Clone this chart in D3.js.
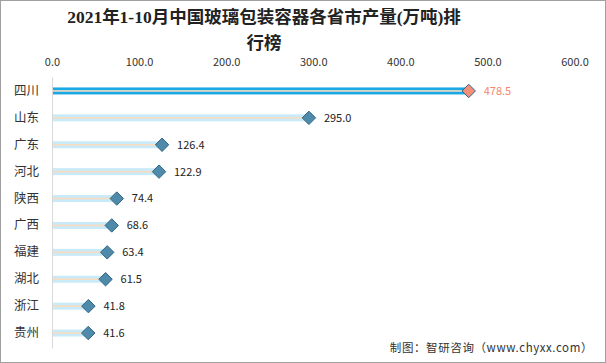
<!DOCTYPE html>
<html>
<head>
<meta charset="utf-8">
<script src="https://cdn.jsdelivr.net/npm/d3@7"></script>
<style>
	body { margin: 0; background: #fff; }
	svg { display: block; }
</style>
</head>
<body>
<svg width="606" height="363"></svg>
<script>
let provinces = ['四川', '山东', '广东', '河北', '陕西', '广西', '福建', '湖北', '浙江', '贵州']
let output = [478.5, 295.0, 126.4, 122.9, 74.4, 68.6, 63.4, 61.5, 41.8, 41.6]
let xTicks = [0, 100, 200, 300, 400, 500, 600]
let titleLines = ['2021年1-10月中国玻璃包装容器各省市产量(万吨)排', '行榜']
let source = '制图：智研咨询（www.chyxx.com）'

let cjk = '"Noto Sans CJK SC", "Noto Sans", sans-serif'

let svg = d3.select('svg')

svg.append('rect')
	.attr('x', 0.5).attr('y', 0.5)
	.attr('width', 605).attr('height', 362)
	.attr('fill', 'none')
	.attr('stroke', '#a0a0a0')

svg.append('text')
	.attr('text-anchor', 'middle')
	.attr('font-family', '"Liberation Serif", "Noto Sans CJK SC", serif')
	.attr('font-size', 17.5)
	.attr('font-weight', 'bold')
	.attr('fill', '#222')
	.selectAll('tspan')
	.data(titleLines)
	.join('tspan')
	.attr('x', 264)
	.attr('y', (d, i) => 23 + i * 26)
	.text(d => d)

let xScale = d3.scaleLinear()
	.domain([0, 600])
	.range([52, 574.5])

let yScale = d3.scaleBand()
	.domain(provinces)
	.range([77.5, 346.5])

// top axis, tick labels only
let topAxis = d3.axisTop(xScale)
	.tickValues(xTicks)
	.tickFormat(d3.format('.1f'))
	.tickSize(0)
	.tickPadding(0)

let axisG = svg.append('g')
	.attr('transform', 'translate(0, 66)')
	.call(topAxis)
axisG.select('.domain').remove()
axisG.selectAll('text')
	.attr('font-family', cjk)
	.attr('font-size', 11)
	.attr('fill', '#333')

// left axis line + category labels
svg.append('line')
	.attr('x1', 52.5).attr('x2', 52.5)
	.attr('y1', yScale.range()[0]).attr('y2', yScale.range()[1] + 2)
	.attr('stroke', '#d9d9d9')

let leftAxis = d3.axisLeft(yScale).tickSize(0).tickPadding(0)
let leftG = svg.append('g')
	.attr('transform', 'translate(39, 0)')
	.call(leftAxis)
leftG.select('.domain').remove()
leftG.selectAll('text')
	.attr('font-family', cjk)
	.attr('font-size', 12.5)
	.attr('fill', '#333')

let rows = svg.append('g')
	.selectAll('g')
	.data(provinces.map((p, i) => ({ name: p, value: output[i], top: i === 0 })))
	.join('g')
	.attr('transform', d => `translate(0, ${yScale(d.name) + yScale.bandwidth() / 2})`)

rows.append('rect')
	.attr('x', xScale(0) + 1)
	.attr('y', -3.5)
	.attr('width', d => xScale(d.value) - xScale(0) - 1)
	.attr('height', 7)
	.attr('fill', d => d.top ? '#1aa9e4' : '#c9eaf8')

rows.append('rect')
	.attr('x', xScale(0) + 1)
	.attr('y', -0.8)
	.attr('width', d => xScale(d.value) - xScale(0) - 1)
	.attr('height', 1.6)
	.attr('fill', d => d.top ? '#f6dcc6' : '#f9dcbf')

rows.append('path')
	.attr('d', d3.symbol(d3.symbolDiamond2, 115))
	.attr('transform', d => `translate(${xScale(d.value)}, 0)`)
	.attr('fill', d => d.top ? '#f28f78' : '#4f8aaa')
	.attr('stroke', '#2f6684')
	.attr('stroke-width', 1)

rows.append('text')
	.attr('x', d => xScale(d.value) + 15)
	.attr('dy', '0.35em')
	.attr('font-family', cjk)
	.attr('font-size', 11)
	.attr('fill', d => d.top ? '#f0886e' : '#222')
	.text(d => d3.format('.1f')(d.value))

svg.append('text')
	.attr('x', 593)
	.attr('y', 352)
	.attr('text-anchor', 'end')
	.attr('font-family', cjk)
	.attr('font-size', 11.5)
	.attr('letter-spacing', 0.6)
	.attr('fill', '#333')
	.text(source)
</script>
</body>
</html>
